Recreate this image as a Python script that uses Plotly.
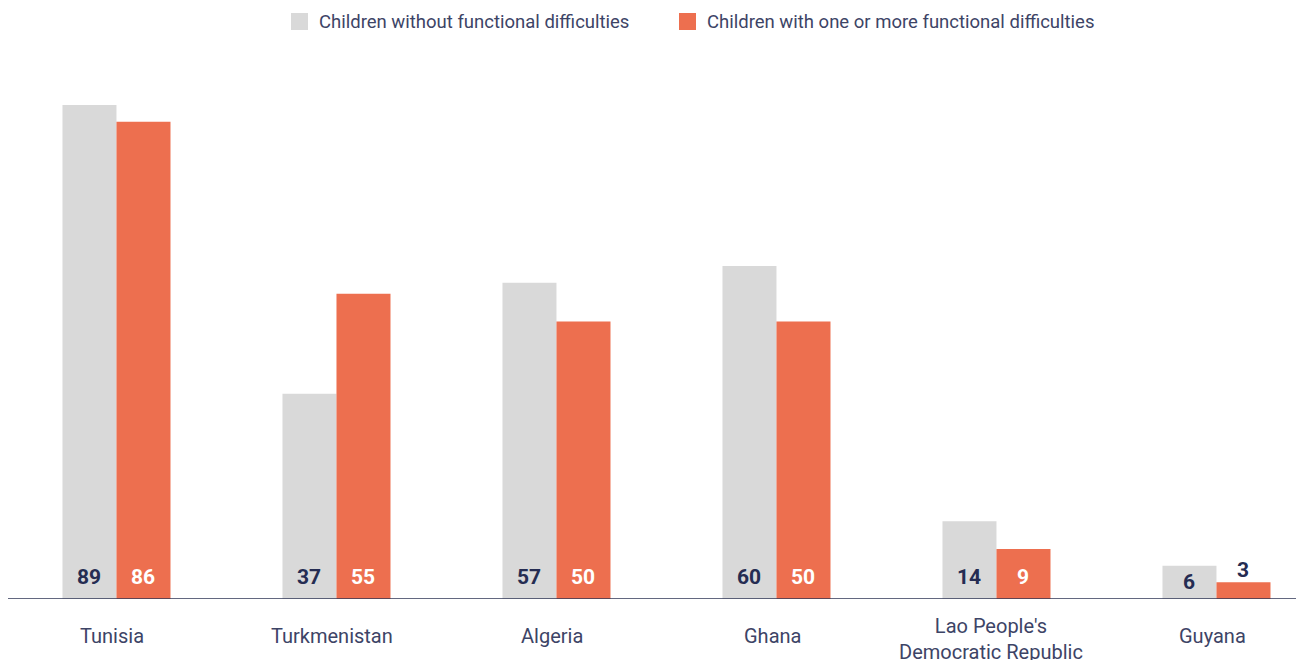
import plotly.graph_objects as go

countries = ["Tunisia", "Turkmenistan", "Algeria", "Ghana",
             "Lao People's<br>Democratic Republic", "Guyana"]
without_diff = [89, 37, 57, 60, 14, 6]
with_diff = [86, 55, 50, 50, 9, 3]
series_names = ["Children without functional difficulties",
                "Children with one or more functional difficulties"]

GRAY = "#d9d9d9"
ORANGE = "#ed6f4f"
NAVY = "#252c52"
TEXT = "#3d4466"

W, H = 1304, 660
T, B = 52, 69
PLOT_H = H - T - B
X0 = -0.4931

fig = go.Figure()
fig.add_trace(go.Bar(x=countries, y=without_diff, name=series_names[0],
                     marker=dict(color=GRAY, line=dict(width=0)), showlegend=False))
fig.add_trace(go.Bar(x=countries, y=with_diff, name=series_names[1],
                     marker=dict(color=ORANGE, line=dict(width=0)), showlegend=False))

annotations = []
for vals, shift, col in [(without_diff, -27, NAVY), (with_diff, 27, "white")]:
    for c, v in zip(countries, vals):
        if v >= 8:
            a = dict(y=0, yanchor="middle", yshift=22, fc=col)
        elif v >= 5:
            a = dict(y=v / 2, yanchor="middle", yshift=0, fc=col)
        else:
            a = dict(y=v, yanchor="bottom", yshift=-2, fc=NAVY)
        fc = a.pop("fc")
        annotations.append(dict(x=c, text=str(v), showarrow=False, xshift=shift,
                                xanchor="center",
                                font=dict(family="Roboto", size=21, color=fc, weight="bold"),
                                **a))
for c in countries:
    two = "<br>" in c
    annotations.append(dict(x=c, y=0, text=c, showarrow=False, yanchor="middle",
                            yshift=-40 if two else -37, xshift=-5 if two else -4,
                            xanchor="center",
                            font=dict(family="Roboto", size=20, color=TEXT)))

# legend (drawn manually to match swatch size)
def py(yfig):
    return (H - B - yfig) / PLOT_H

def px(xfig):
    return xfig / W

shapes = [dict(type="line", xref="paper", yref="y", x0=0, x1=1, y0=0, y1=0,
               line=dict(color="#2f3656", width=1.5))]
for (sx, tx), name, col in zip([(283, 309), (671, 697)], series_names, [GRAY, ORANGE]):
    shapes.append(dict(type="rect", xref="paper", yref="paper",
                       x0=px(sx), x1=px(sx + 17), y0=py(22), y1=py(5),
                       fillcolor=col, line=dict(width=0)))
    annotations.append(dict(xref="paper", yref="paper", x=px(tx), y=py(13.5),
                            xanchor="left", yanchor="middle", text=name, showarrow=False,
                            font=dict(family="Roboto", size=18.5, color=TEXT)))

fig.update_layout(
    width=W, height=H,
    margin=dict(l=0, r=0, t=T, b=B),
    plot_bgcolor="white", paper_bgcolor="white",
    barmode="group", bargap=0.509, bargroupgap=0,
    showlegend=False,
    xaxis=dict(range=[X0, X0 + W / 220], showticklabels=False, showgrid=False,
               showline=False, zeroline=False, ticks=""),
    yaxis=dict(range=[0, PLOT_H / 5.55], visible=False, showgrid=False, zeroline=False),
    annotations=annotations,
    shapes=shapes,
)
fig.write_html("out.html", post_script="document.body.style.overflow='hidden';")
